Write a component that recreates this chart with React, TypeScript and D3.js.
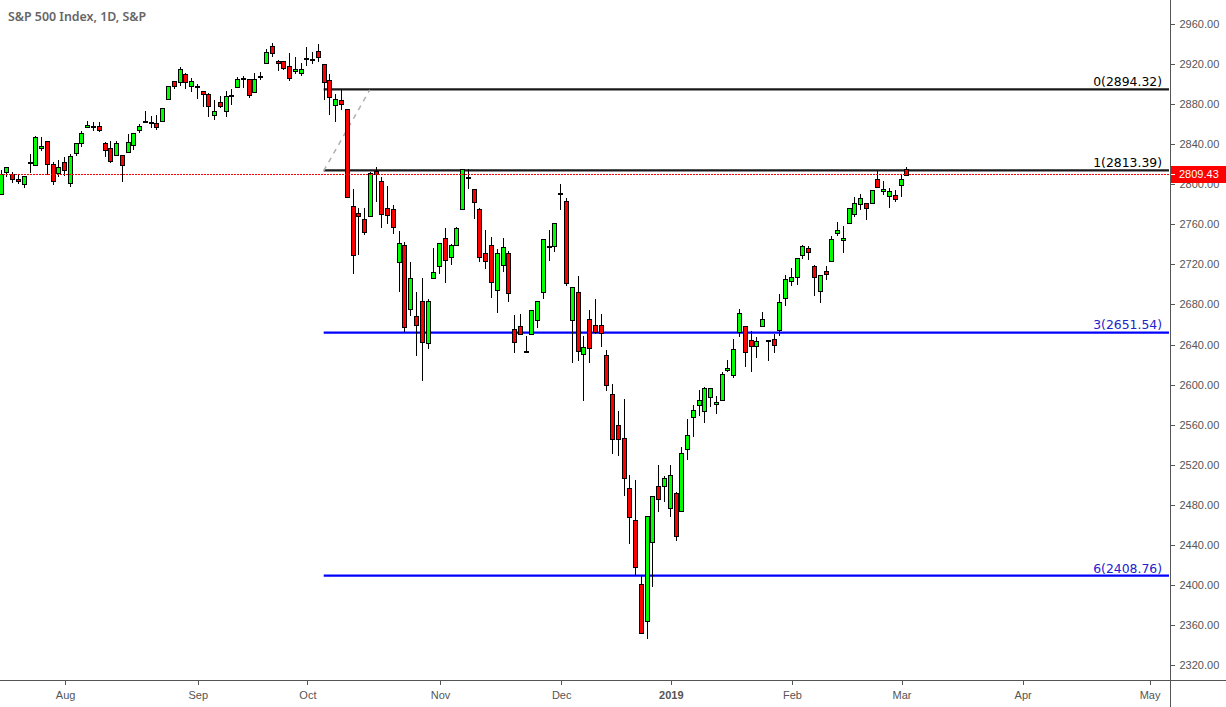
import React, { useEffect, useRef } from 'react';
import * as d3 from 'd3';

// daily candles, first one sits 11 sessions before Aug 1 2018
const opens = [2790,2812,2810,2805,2800,2822,2819,2836,2843,2820,2811,2822,2801,2831,2841,2857,2858,2858,2841,2836,2829,2829,2832,2839,2854,2863,2862,2861,2863,2885,2903,2902,2910,2898,2898,2893,2890,2869,2882,2873,2889,2897,2906,2905,2892,2908,2921,2938,2923,2923,2918,2913,2911,2926,2925,2933,2920,2904,2879,2884,2875,2778,2771,2765,2768,2813,2803,2776,2775,2722,2739,2675,2668,2683,2641,2706,2718,2746,2727,2739,2775,2807,2795,2775,2731,2739,2694,2719,2731,2655,2658,2634,2650,2664,2692,2738,2738,2791,2783,2664,2692,2631,2665,2659,2659,2630,2591,2560,2547,2497,2465,2401,2364,2443,2499,2499,2477,2492,2474,2536,2568,2580,2574,2588,2581,2585,2615,2610,2652,2658,2644,2639,2658,2644,2645,2654,2686,2703,2707,2729,2736,2718,2693,2713,2723,2751,2744,2761,2770,2780,2781,2781,2805,2793,2788,2789,2799,2815];
const highs = [2815,2818,2813,2811,2809,2831,2849,2848,2844,2823,2825,2828,2831,2841,2854,2864,2863,2863,2843,2844,2844,2829,2851,2851,2861,2874,2869,2870,2877,2898,2904,2918,2912,2907,2901,2894,2892,2885,2889,2894,2896,2908,2909,2906,2912,2913,2936,2942,2925,2924,2932,2928,2922,2938,2933,2941,2920,2911,2891,2896,2875,2796,2777,2777,2813,2818,2808,2799,2780,2754,2743,2723,2693,2707,2686,2737,2742,2757,2741,2758,2816,2816,2795,2777,2755,2748,2736,2747,2734,2670,2671,2649,2675,2683,2745,2755,2762,2801,2787,2697,2709,2649,2675,2686,2671,2636,2602,2575,2587,2511,2506,2411,2469,2490,2521,2510,2521,2494,2539,2567,2581,2596,2599,2598,2590,2614,2626,2646,2676,2658,2654,2648,2673,2645,2651,2691,2710,2717,2726,2740,2739,2720,2709,2719,2749,2763,2759,2776,2788,2791,2782,2795,2814,2804,2797,2795,2810,2818];
const lows = [2790,2808,2802,2801,2797,2812,2819,2834,2810,2800,2808,2809,2798,2829,2838,2857,2854,2853,2828,2822,2829,2803,2832,2835,2852,2863,2857,2855,2863,2885,2896,2899,2896,2893,2886,2878,2868,2865,2877,2868,2880,2897,2897,2887,2892,2905,2921,2928,2914,2915,2904,2911,2909,2919,2921,2923,2885,2870,2863,2875,2787,2711,2730,2750,2768,2783,2757,2761,2751,2693,2653,2669,2630,2605,2637,2706,2711,2702,2720,2739,2775,2796,2766,2723,2716,2687,2672,2713,2683,2633,2650,2634,2650,2657,2686,2724,2733,2775,2699,2623,2625,2585,2623,2651,2639,2595,2532,2530,2490,2442,2410,2352,2347,2399,2474,2484,2469,2445,2474,2526,2549,2570,2563,2579,2572,2585,2614,2608,2648,2619,2614,2628,2658,2625,2633,2649,2679,2699,2700,2726,2725,2689,2682,2705,2723,2749,2732,2761,2768,2775,2765,2781,2797,2790,2777,2783,2788,2810];
const closes = [2810,2817,2805,2803,2808,2822,2847,2838,2820,2803,2817,2814,2828,2841,2851,2859,2858,2854,2834,2823,2841,2819,2842,2851,2858,2863,2862,2857,2876,2898,2898,2915,2902,2903,2898,2890,2878,2873,2878,2888,2889,2905,2906,2889,2905,2908,2932,2931,2921,2916,2906,2915,2915,2926,2925,2927,2902,2887,2885,2880,2787,2729,2768,2752,2811,2810,2770,2769,2757,2741,2657,2706,2659,2642,2683,2712,2741,2724,2739,2756,2815,2807,2782,2727,2723,2702,2731,2737,2691,2642,2650,2634,2674,2683,2745,2738,2761,2791,2701,2697,2634,2638,2637,2652,2651,2600,2546,2546,2507,2468,2418,2352,2469,2489,2486,2507,2510,2449,2532,2550,2575,2585,2597,2597,2583,2611,2617,2636,2671,2633,2639,2643,2665,2644,2640,2682,2705,2707,2726,2738,2732,2707,2709,2710,2745,2754,2746,2776,2781,2786,2776,2794,2797,2795,2793,2785,2805,2809.43];

const priceTicks = d3.range(2320, 2961, 40);
const monthLabels = ['Aug', 'Sep', 'Oct', 'Nov', 'Dec', '2019', 'Feb', 'Mar', 'Apr', 'May'];
const monthSessions = [11, 34, 53, 76, 97, 116, 137, 156, 177, 199];

const fibLevels = [2894.32, 2813.39, 2651.54, 2408.76];
const fibNames = ['0', '1', '3', '6'];
const fibColors = ['#1a1a1a', '#1a1a1a', '#0000ff', '#0000ff'];
const fibTextColors = ['#000', '#000', '#2222cc', '#2222cc'];
const lastPrice = 2809.43;

const WIDTH = 1226;
const HEIGHT = 707;
const PLOT_RIGHT = 1170;
const PLOT_BOTTOM = 680;
const AXIS_COLOR = '#555555';
const AXIS_FONT = '"Liberation Sans", sans-serif';

export default function App() {
    const ref = useRef<SVGSVGElement>(null);

    useEffect(() => {
        if (!ref.current) return;
        const svg = d3.select(ref.current);
        svg.selectAll('*').remove();

        const x = d3.scaleLinear().domain([0, 100]).range([0.7, 577.5]);
        const y = d3.scaleLinear().domain([2320, 2960]).range([665, 24]);

        svg.append('rect').attr('width', WIDTH).attr('height', HEIGHT).attr('fill', '#fff');

        // fib levels sit under the candles
        const fibStart = x(56);
        const fibs = svg.append('g');
        fibLevels.forEach((level, i) => {
            fibs.append('line')
                .attr('x1', fibStart).attr('x2', PLOT_RIGHT - 1)
                .attr('y1', y(level) - 0.4).attr('y2', y(level) - 0.4)
                .attr('stroke', fibColors[i])
                .attr('stroke-width', 2.2);
            fibs.append('text')
                .attr('x', PLOT_RIGHT - 8).attr('y', y(level) - 3.5)
                .attr('text-anchor', 'end')
                .attr('font-family', '"DejaVu Sans", sans-serif')
                .attr('font-size', 12.4)
                .attr('fill', fibTextColors[i])
                .text(`${fibNames[i]}(${level.toFixed(2)})`);
        });
        // trend line between the two anchor levels
        fibs.append('line')
            .attr('x1', fibStart).attr('x2', x(64))
            .attr('y1', y(fibLevels[1])).attr('y2', y(fibLevels[0]))
            .attr('stroke', '#b0b0b0')
            .attr('stroke-width', 1.5)
            .attr('stroke-dasharray', '5 5');

        // candles
        const candles = svg.append('g').attr('shape-rendering', 'crispEdges');
        const px = (v: number) => Math.round(v) + 0.5;
        opens.forEach((open, i) => {
            const close = closes[i];
            const cx = px(x(i));
            candles.append('line')
                .attr('x1', cx).attr('x2', cx)
                .attr('y1', px(y(highs[i]))).attr('y2', px(y(lows[i])))
                .attr('stroke', '#000');
            const top = px(y(Math.max(open, close)));
            const bottom = px(y(Math.min(open, close)));
            const doji = open === close;
            candles.append('rect')
                .attr('x', cx - 2).attr('y', top)
                .attr('width', 4).attr('height', doji ? 1 : bottom - top)
                .attr('fill', doji ? '#000' : close > open ? '#00ff00' : '#ff0000')
                .attr('stroke', '#000');
        });

        // last price line
        const tagY = Math.floor(y(lastPrice));
        svg.append('line')
            .attr('x1', 0).attr('x2', PLOT_RIGHT)
            .attr('y1', tagY + 0.5).attr('y2', tagY + 0.5)
            .attr('stroke', '#ff0000')
            .attr('stroke-width', 1)
            .attr('stroke-dasharray', '2 1');

        // axes
        const yAxis = svg.append('g')
            .attr('transform', `translate(${PLOT_RIGHT + 0.5},0)`)
            .call(d3.axisRight(y).tickValues(priceTicks).tickFormat(d3.format('.2f') as any).tickSize(4).tickPadding(5).tickSizeOuter(0));
        yAxis.select('.domain').attr('d', `M0,0V${HEIGHT}`);

        const xAxis = svg.append('g')
            .attr('transform', `translate(1,${PLOT_BOTTOM + 0.5})`)
            .call(d3.axisBottom(x).tickValues(monthSessions).tickFormat((_, i) => monthLabels[i]).tickSize(4).tickPadding(7).tickSizeOuter(0));
        xAxis.select('.domain').attr('d', `M-1,0H${WIDTH}`);

        [yAxis, xAxis].forEach(axis => {
            axis.attr('font-family', AXIS_FONT).attr('font-size', 11);
            axis.selectAll('path,line').attr('stroke', AXIS_COLOR).attr('shape-rendering', 'crispEdges');
            axis.selectAll('text').attr('fill', AXIS_COLOR);
        });
        xAxis.selectAll('text').filter(d => d === monthSessions[5]).attr('font-weight', 'bold');

        // last price tag on the price axis
        svg.append('rect')
            .attr('x', PLOT_RIGHT + 1).attr('y', tagY - 8)
            .attr('width', WIDTH - PLOT_RIGHT - 1).attr('height', 17)
            .attr('fill', '#ff0000');
        svg.append('line')
            .attr('x1', PLOT_RIGHT + 1).attr('x2', PLOT_RIGHT + 5)
            .attr('y1', tagY + 0.5).attr('y2', tagY + 0.5)
            .attr('stroke', '#fff')
            .attr('shape-rendering', 'crispEdges');
        svg.append('text')
            .attr('x', PLOT_RIGHT + 9).attr('y', tagY + 4)
            .attr('font-family', AXIS_FONT).attr('font-size', 11)
            .attr('fill', '#fff')
            .text(lastPrice.toFixed(2));

        svg.append('text')
            .attr('x', 8).attr('y', 21)
            .attr('font-family', '"Noto Sans", sans-serif')
            .attr('font-size', 12.4)
            .attr('font-weight', 600)
            .attr('fill', '#666')
            .text('S&P 500 Index, 1D, S&P');
    }, []);

    return <svg ref={ref} width={WIDTH} height={HEIGHT} style={{ position: 'absolute', left: 0, top: 0 }} />;
}
